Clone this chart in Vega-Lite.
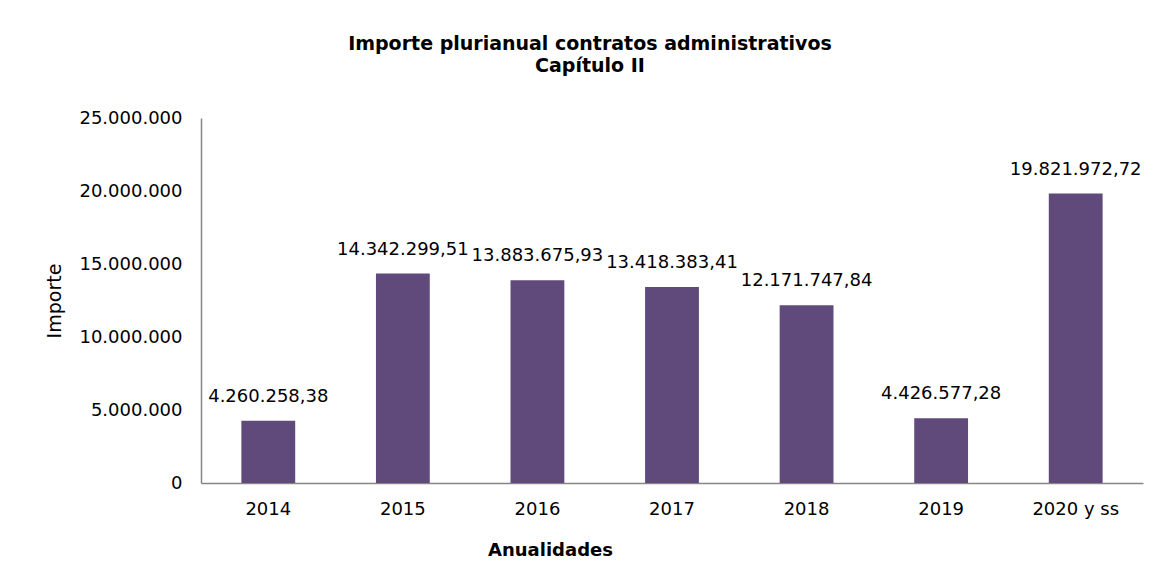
{
  "$schema": "https://vega.github.io/schema/vega-lite/v6.json",
  "autosize": {"type": "none"},
  "width": 942,
  "height": 365,
  "padding": {"left": 201, "top": 118, "right": 17, "bottom": 95},
  "background": "white",
  "config": {
    "locale": {"number": {"decimal": ",", "thousands": ".", "grouping": [3], "currency": ["", " €"]}},
    "view": {"stroke": null},
    "font": "DejaVu Sans"
  },
  "title": {
    "text": ["Importe plurianual contratos administrativos", "Capítulo II"],
    "font": "DejaVu Sans",
    "fontSize": 19,
    "fontWeight": "bold",
    "color": "#000000",
    "lineHeight": 22,
    "anchor": "middle",
    "dx": -82,
    "offset": 33
  },
  "data": {
    "values": [
      {"anio": "2014", "importe": 4260258.38},
      {"anio": "2015", "importe": 14342299.51},
      {"anio": "2016", "importe": 13883675.93},
      {"anio": "2017", "importe": 13418383.41},
      {"anio": "2018", "importe": 12171747.84},
      {"anio": "2019", "importe": 4426577.28},
      {"anio": "2020 y ss", "importe": 19821972.72}
    ]
  },
  "encoding": {
    "x": {
      "field": "anio",
      "type": "nominal",
      "sort": null,
      "scale": {"paddingInner": 0.6, "paddingOuter": 0.3},
      "axis": {
        "title": "Anualidades",
        "titleFont": "DejaVu Sans",
        "titleFontSize": 18,
        "titleFontWeight": "bold",
        "titleColor": "#000000",
        "titleX": 349,
        "titleAnchor": null,
        "titlePadding": 23,
        "labelAngle": 0,
        "labelFont": "DejaVu Sans",
        "labelFontSize": 18,
        "labelColor": "#000000",
        "labelPadding": 17,
        "ticks": false,
        "domainColor": "#868686",
        "domainWidth": 1.5
      }
    },
    "y": {
      "field": "importe",
      "type": "quantitative",
      "scale": {"domain": [0, 25000000], "nice": false},
      "axis": {
        "title": "Importe",
        "titleFont": "DejaVu Sans",
        "titleFontSize": 19,
        "titleFontWeight": "normal",
        "titleColor": "#000000",
        "titlePadding": 14,
        "values": [0, 5000000, 10000000, 15000000, 20000000, 25000000],
        "format": ",.0f",
        "labelFont": "DejaVu Sans",
        "labelFontSize": 18,
        "labelColor": "#000000",
        "labelPadding": 19,
        "ticks": false,
        "grid": false,
        "domainColor": "#868686",
        "domainWidth": 1.5
      }
    }
  },
  "layer": [
    {"mark": {"type": "bar", "color": "#604A7B"}},
    {
      "mark": {"type": "text", "baseline": "bottom", "dy": -15, "font": "DejaVu Sans", "fontSize": 18, "color": "#000000"},
      "encoding": {"text": {"field": "importe", "type": "quantitative", "format": ",.2f"}}
    }
  ]
}
